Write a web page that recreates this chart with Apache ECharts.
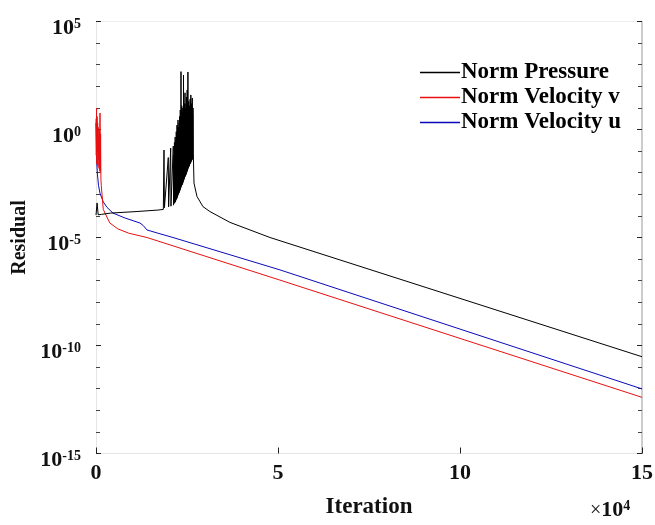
<!DOCTYPE html>
<html>
<head>
<meta charset="utf-8">
<script src="https://cdn.jsdelivr.net/npm/echarts@6/dist/echarts.min.js"></script>
<style>
html,body{margin:0;padding:0;background:#fff;}
#chart{width:655px;height:525px;}
</style>
</head>
<body>
<div id="chart"></div>
<script>
// Series data: [iteration, log10(residual)]
const seriesNames = ['Norm Pressure', 'Norm Velocity v', 'Norm Velocity u'];
const seriesColors = ['#000000', '#e81010', '#0a0ab8'];

const pressurePoints = [
  [0,-3.96],[300,-3.4],[600,-3.95],[1500,-3.93],[4000,-3.87],[11000,-3.8],[17000,-3.73],[18500,-3.7],
  [18680,-0.95],[18800,-3.62],[19860,-1.3],[19950,-3.58],[20520,-0.86],[20600,-3.55],[21230,-0.77],[21300,-3.5],
  [21400,-3.45],[21450,-1.2],[21500,-3.42],[21550,-0.6],[21600,-3.4],[21650,-1.0],[21700,-3.37],[21750,-0.35],
  [21800,-3.35],[21850,-0.5],[21900,-3.3],[21950,-0.8],[22000,-3.25],[22050,-0.1],[22100,-3.22],[22150,-0.4],
  [22200,-3.2],[22250,0.2],[22300,-3.15],[22350,-0.2],[22400,-3.1],[22450,0.1],[22500,-3.05],[22530,0.44],
  [22600,-3.0],[22650,-0.1],[22700,-2.97],[22750,0.1],[22800,-2.93],[22850,0.3],[22900,-2.9],[22950,0.6],
  [23000,-2.85],[23050,0.2],[23100,-2.8],[23150,0.9],[23200,-2.75],[23250,0.5],[23300,-2.7],[23350,2.68],
  [23400,-2.65],[23450,0.7],[23500,-2.6],[23550,1.1],[23600,-2.57],[23650,0.6],[23700,-2.55],[23750,0.8],
  [23800,-2.5],[23850,1.0],[23900,-2.45],[23950,0.7],[24000,-2.4],[24040,2.52],[24100,-2.35],[24150,0.9],
  [24200,-2.3],[24250,1.2],[24300,-2.25],[24350,0.8],[24400,-2.2],[24450,1.7],[24500,-2.17],[24550,0.9],
  [24600,-2.15],[24650,1.0],[24700,-2.1],[24750,1.2],[24800,-2.05],[24850,1.5],[24900,-2.0],[24950,1.0],
  [25000,-1.95],[25050,1.83],[25100,-1.9],[25150,1.1],[25200,-1.85],[25250,2.66],[25300,-1.8],[25350,1.0],
  [25400,-1.75],[25450,1.3],[25500,-1.72],[25550,0.9],[25600,-1.7],[25650,1.1],[25700,-1.65],[25750,0.8],
  [25800,-1.6],[25850,1.4],[25900,-1.57],[25950,1.0],[26000,-1.55],[26050,1.6],[26100,-1.5],[26150,0.9],
  [26200,-1.45],[26250,1.2],[26300,-1.42],[26350,0.8],[26400,-1.4],[26450,1.46],[26500,-1.35],[26550,0.7],
  [26600,-1.3],[26650,1.0],[26730,-1.1],[26920,-2.48],[27740,-3.1],[29390,-3.57],
  [31310,-3.8],[36800,-4.3],[47800,-5.0],[150000,-10.52]
];

const velocityVPoints = [
  [0,0.5],[80,-1.2],[150,0.98],[230,-1.6],[300,0.6],[380,-1.0],[450,0.3],[520,-1.7],[600,0.1],[680,-1.4],
  [760,-0.3],[840,-1.8],[920,0.0],[1000,-1.9],[1100,0.76],[1180,-2.0],[1260,-0.2],[1350,-2.3],[1450,-2.6],
  [1800,-3.3],[2000,-3.7],[3800,-4.33],[6000,-4.6],[9000,-4.8],[14000,-5.0],[50500,-6.97],[150000,-12.4]
];

const velocityUPoints = [
  [0,0.3],[100,-0.5],[200,-1.5],[400,-2.1],[700,-2.6],[1100,-2.95],[2000,-3.35],[3000,-3.6],[4670,-3.87],
  [8000,-4.1],[12090,-4.33],[13000,-4.45],[14000,-4.65],[17000,-4.8],[21150,-5.0],[50550,-6.5],[150000,-12.01]
];

// Tick labels
const xTickLabels = ['0', '5', '10', '15'];
const yTickExponents = ['-15', '-10', '-5', '0', '5'];

const FONT = '"Liberation Serif", "Times New Roman", serif';

function yLabel(v) {
  const idx = Math.round((v + 15) / 5);
  const e = yTickExponents[idx];
  if (e === undefined) return '';
  return '{b|10}{sup|' + e + '}';
}

function xLabel(v) {
  const idx = Math.round(v / 50000);
  return xTickLabels[idx] || '';
}

function makeSeries(i, points, z) {
  return {
    name: seriesNames[i], type: 'line', data: points,
    symbol: 'none', showSymbol: false,
    lineStyle: {color: seriesColors[i], width: 1},
    itemStyle: {color: seriesColors[i]}, z: z
  };
}

const chart = echarts.init(document.getElementById('chart'), null, {renderer: 'canvas'});

const option = {
  animation: false,
  backgroundColor: '#ffffff',
  grid: {left: 96, right: 13, top: 21.5, bottom: 71.5, containLabel: false, outerBoundsMode: 'none'},
  legend: {
    show: true,
    orient: 'vertical',
    left: 415,
    top: 56,
    itemWidth: 40,
    itemHeight: 1.4,
    itemGap: 2,
    icon: 'rect',
    data: seriesNames.map((n, i) => ({name: n, itemStyle: {color: seriesColors[i]}})),
    textStyle: {fontFamily: FONT, fontWeight: 'bold', fontSize: 23, color: '#000', padding: [0,0,0,-4]}
  },
  xAxis: [{
    type: 'value',
    min: 0, max: 150000, interval: 50000,
    name: 'Iteration',
    nameLocation: 'middle',
    nameGap: 42,
    nameTextStyle: {fontFamily: FONT, fontWeight: 'bold', fontSize: 23, color: '#111'},
    axisLine: {show: true, onZero: false, lineStyle: {color: '#e6e6e6', width: 1}},
    axisTick: {show: true, inside: true, length: 6, lineStyle: {color: '#222', width: 1}},
    splitLine: {show: false},
    axisLabel: {
      margin: 9,
      fontFamily: FONT, fontWeight: 'bold', fontSize: 22, color: '#111',
      formatter: xLabel
    }
  }, {
    type: 'value', position: 'top',
    min: 0, max: 150000, interval: 50000,
    axisLine: {show: true, onZero: false, lineStyle: {color: '#eeeeee', width: 1}},
    axisTick: {show: false}, axisLabel: {show: false}, splitLine: {show: false}
  }],
  yAxis: [{
    type: 'value',
    position: 'left',
    min: -15, max: 5, interval: 5,
    name: 'Residual',
    nameLocation: 'middle',
    nameRotate: 90,
    nameGap: 66,
    nameTextStyle: {fontFamily: FONT, fontWeight: 'bold', fontSize: 20, color: '#111'},
    axisLine: {show: true, onZero: false, lineStyle: {color: '#e6e6e6', width: 1}},
    axisTick: {show: true, inside: true, length: 5, lineStyle: {color: '#222', width: 1}},
    minorTick: {show: true, splitNumber: 5, length: 4, lineStyle: {color: '#444', width: 1}},
    splitLine: {show: false},
    minorSplitLine: {show: false},
    axisLabel: {
      margin: 15,
      padding: [14, 0, 0, 0],
      formatter: yLabel,
      rich: {
        b: {fontFamily: FONT, fontWeight: 'bold', fontSize: 22, color: '#111', lineHeight: 22, verticalAlign: 'bottom'},
        sup: {fontFamily: FONT, fontWeight: 'bold', fontSize: 14, color: '#111', lineHeight: 14, padding: [0, 0, 14, 0], verticalAlign: 'top'}
      }
    }
  }, {
    type: 'value',
    position: 'right',
    min: -15, max: 5, interval: 5,
    axisLine: {show: true, onZero: false, lineStyle: {color: '#bdbdbd', width: 1.5}},
    axisTick: {show: true, inside: true, length: 5, lineStyle: {color: '#222', width: 1}},
    minorTick: {show: true, splitNumber: 5, length: 4, lineStyle: {color: '#444', width: 1}},
    axisLabel: {show: false},
    splitLine: {show: false},
    minorSplitLine: {show: false}
  }],
  graphic: [{
    type: 'text',
    left: 590,
    top: 499,
    style: {
      text: '{x|×}{b|10}{sup|4}',
      rich: {
        x: {fontFamily: FONT, fontSize: 20, fill: '#111', verticalAlign: 'bottom', lineHeight: 22},
        b: {fontFamily: FONT, fontWeight: 'bold', fontSize: 22, fill: '#111', verticalAlign: 'bottom', lineHeight: 22},
        sup: {fontFamily: FONT, fontWeight: 'bold', fontSize: 14, fill: '#111', lineHeight: 14, padding: [0,0,14,0], verticalAlign: 'top'}
      }
    }
  }],
  series: [
    makeSeries(0, pressurePoints, 4),
    makeSeries(1, velocityVPoints, 3),
    makeSeries(2, velocityUPoints, 2)
  ]
};

chart.setOption(option);
</script>
</body>
</html>
